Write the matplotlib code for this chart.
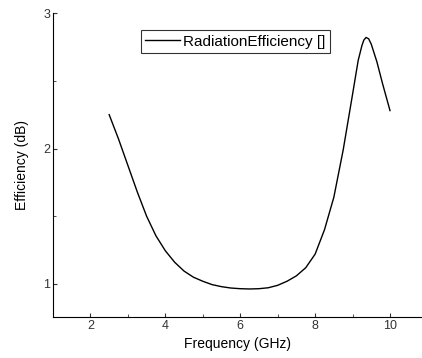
import numpy as np
import matplotlib.pyplot as plt
from matplotlib.ticker import MultipleLocator

plt.rcParams['font.family'] = ['Liberation Sans', 'DejaVu Sans']

freq_ghz = [2.5, 2.75, 3.0, 3.25, 3.5, 3.75, 4.0, 4.25, 4.5, 4.75, 5.0, 5.25,
            5.5, 5.75, 6.0, 6.25, 6.5, 6.75, 7.0, 7.25, 7.5, 7.75, 8.0, 8.25,
            8.5, 8.75, 9.0, 9.15, 9.25, 9.3, 9.36, 9.43, 9.5, 9.65, 9.8, 9.92, 10.0]
efficiency = [2.25, 2.07, 1.875, 1.68, 1.50, 1.355, 1.245, 1.16, 1.095, 1.05, 1.02, 0.995,
              0.98, 0.97, 0.965, 0.963, 0.965, 0.972, 0.99, 1.02, 1.06, 1.12, 1.22, 1.40,
              1.64, 1.99, 2.40, 2.65, 2.76, 2.80, 2.82, 2.81, 2.77, 2.64, 2.48, 2.36, 2.28]
x_ticks = [2, 4, 6, 8, 10]
y_ticks = [1, 2, 3]

fig = plt.figure(figsize=(4.22, 3.58), dpi=100)
ax = fig.add_axes([0.1256, 0.1145, 0.874, 0.849])

ax.plot(freq_ghz, efficiency, color="black", linewidth=1.0, label="RadiationEfficiency []")

ax.set_xlim(1, 10.85)
ax.set_ylim(0.756, 3)
ax.set_xticks(x_ticks)
ax.set_yticks(y_ticks)
ax.xaxis.set_minor_locator(MultipleLocator(1))
ax.yaxis.set_minor_locator(MultipleLocator(0.5))
ax.tick_params(which="both", direction="in", labelsize=9, colors="#333333", pad=2)
ax.tick_params(which="major", length=3)
ax.tick_params(which="minor", length=2)

for side in ["top", "right"]:
    ax.spines[side].set_visible(False)

ax.set_xlabel("Frequency (GHz)", fontsize=10, labelpad=4)
ax.set_ylabel("Efficiency (dB)", fontsize=10, labelpad=10)

leg = ax.legend(loc="upper center", bbox_to_anchor=(0.495, 0.944), fontsize=11,
                frameon=True, fancybox=False, borderpad=0.3, handlelength=2.3,
                handletextpad=0.2, borderaxespad=0)
leg.get_frame().set_edgecolor("black")
leg.get_frame().set_linewidth(0.8)

fig.savefig("out.png", dpi=100)
